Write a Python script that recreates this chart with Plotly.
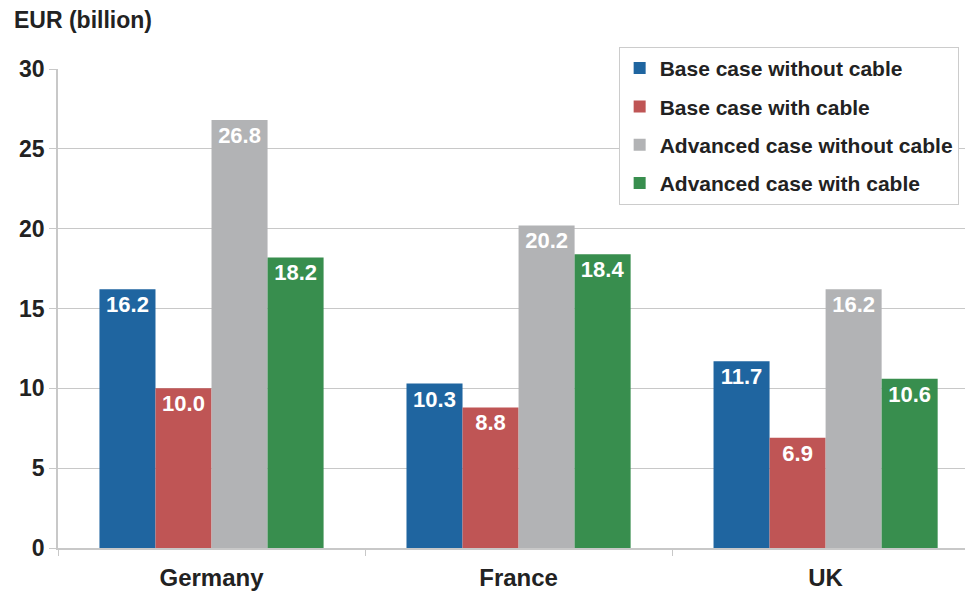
import plotly.graph_objects as go

countries = ["Germany", "France", "UK"]
base_no_cable = [16.2, 10.3, 11.7]
base_cable = [10.0, 8.8, 6.9]
adv_no_cable = [26.8, 20.2, 16.2]
adv_cable = [18.2, 18.4, 10.6]

series = [
    ("Base case without cable", base_no_cable, "#1F65A0"),
    ("Base case with cable", base_cable, "#BF5555"),
    ("Advanced case without cable", adv_no_cable, "#B2B3B5"),
    ("Advanced case with cable", adv_cable, "#388E4E"),
]

fig = go.Figure()
for name, vals, color in series:
    fig.add_trace(go.Bar(
        name=name, x=countries, y=vals,
        marker=dict(color=color, line=dict(width=0)),
        text=[f"{v:.1f}" for v in vals],
        textposition="inside", insidetextanchor="end",
        textfont=dict(family="Arial, Liberation Sans", size=22, color="white", weight="bold"),
        constraintext="none",
        legendgroup=name,
    ))

fig.update_layout(
    width=970, height=593,
    margin=dict(l=58, r=5, t=69, b=45),
    paper_bgcolor="white", plot_bgcolor="white",
    barmode="group", bargap=0.27, bargroupgap=0,
    font=dict(family="Arial, Liberation Sans", size=21, color="#222222", weight="bold"),
    xaxis=dict(
        range=[-0.5, 2.454], automargin=False,
        showline=True, linecolor="#C8C8C8", linewidth=1.5,
        ticks="outside", tickson="boundaries", ticklen=6, tickcolor="#C8C8C8",
        tickfont=dict(size=24, weight="bold"), ticklabelstandoff=7,
    ),
    yaxis=dict(
        range=[0, 30], dtick=5, automargin=False,
        showline=True, linecolor="#C8C8C8", linewidth=1.5,
        gridcolor="#C8C8C8", gridwidth=1,
        ticks="outside", ticklen=7, tickcolor="#C8C8C8",
        tickfont=dict(size=23, weight="bold"),
        zeroline=False,
    ),
    legend=dict(
        x=0.993, y=1.046, xanchor="right", yanchor="top",
        bgcolor="white", bordercolor="#CCCCCC", borderwidth=1,
        font=dict(size=21, weight="bold"),
        tracegroupgap=8, traceorder="grouped",
    ),
    annotations=[dict(
        text="EUR (billion)", xref="paper", yref="paper",
        x=-0.051, y=1.102, xanchor="left", yanchor="middle",
        showarrow=False, font=dict(size=23, weight="bold"),
    )],
)

# page body has a default 8px margin; drop it so the figure sits at the corner
fig.write_html("out.html", config={"displayModeBar": False},
               post_script="document.body.style.margin='0';")
